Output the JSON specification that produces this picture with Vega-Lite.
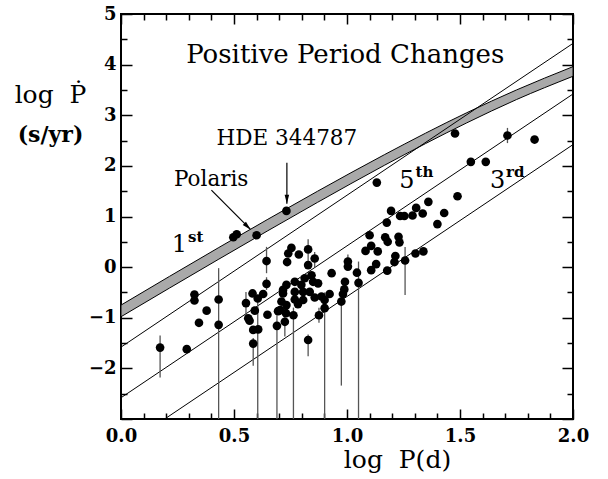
{
  "$schema": "https://vega.github.io/schema/vega-lite/v6.json",
  "width": 452,
  "height": 405,
  "autosize": {"type": "none"},
  "padding": {"left": 121, "top": 14, "right": 35, "bottom": 60},
  "background": "white",
  "config": {
    "view": {"stroke": "black", "strokeWidth": 2},
    "axis": {
      "domain": false, "grid": false, "tickColor": "black", "tickWidth": 1.5,
      "labelFont": "DejaVu Serif", "labelFontSize": 18, "labelFontWeight": "bold", "labelColor": "black",
      "labelFlush": false, "labelOverlap": false, "labelBound": false,
      "titleFont": "DejaVu Serif", "titleFontWeight": "normal", "titleColor": "black"
    },
    "text": {"font": "DejaVu Serif", "color": "black"}
  },
  "datasets": {
    "stars": [
      {"x":0.173,"y":-1.59,"lo":-2.18,"hi":-1.35},
      {"x":0.291,"y":-1.62},
      {"x":0.325,"y":-0.54},
      {"x":0.325,"y":-0.66},
      {"x":0.345,"y":-1.10},
      {"x":0.379,"y":-0.86},
      {"x":0.432,"y":-0.64,"lo":-3.2,"hi":-0.02},
      {"x":0.432,"y":-1.14},
      {"x":0.497,"y":0.59},
      {"x":0.512,"y":0.65},
      {"x":0.600,"y":0.63},
      {"x":0.732,"y":1.11},
      {"x":0.553,"y":-0.71,"lo":-0.95,"hi":-0.49},
      {"x":0.563,"y":-1.01},
      {"x":0.569,"y":-1.06},
      {"x":0.582,"y":-0.52},
      {"x":0.592,"y":-0.86},
      {"x":0.585,"y":-1.24},
      {"x":0.607,"y":-1.23},
      {"x":0.585,"y":-1.51,"lo":-1.95,"hi":-1.40},
      {"x":0.605,"y":-0.62,"lo":-3.2,"hi":-0.62},
      {"x":0.629,"y":-0.53},
      {"x":0.644,"y":-0.33,"lo":-0.45,"hi":-0.20},
      {"x":0.644,"y":0.12,"lo":-0.12,"hi":0.40},
      {"x":0.648,"y":-0.94},
      {"x":0.690,"y":-1.16,"lo":-3.2,"hi":-0.95},
      {"x":0.695,"y":-0.87},
      {"x":0.740,"y":0.27},
      {"x":0.735,"y":0.10},
      {"x":0.754,"y":0.38},
      {"x":0.787,"y":0.25},
      {"x":0.717,"y":-0.45},
      {"x":0.717,"y":-0.52},
      {"x":0.732,"y":-0.35},
      {"x":0.710,"y":-0.68},
      {"x":0.725,"y":-1.08,"lo":-1.37,"hi":-0.90},
      {"x":0.828,"y":0.35,"lo":0.10,"hi":0.55},
      {"x":0.828,"y":0.04},
      {"x":0.857,"y":0.17,"lo":0.0,"hi":0.30},
      {"x":0.843,"y":-0.16},
      {"x":0.813,"y":-0.22},
      {"x":0.769,"y":-0.29},
      {"x":0.798,"y":-0.35},
      {"x":0.850,"y":-0.29},
      {"x":0.872,"y":-0.32},
      {"x":0.769,"y":-0.49},
      {"x":0.806,"y":-0.49},
      {"x":0.835,"y":-0.49},
      {"x":0.887,"y":-0.58},
      {"x":0.923,"y":-0.53},
      {"x":0.769,"y":-0.64},
      {"x":0.806,"y":-0.65},
      {"x":0.857,"y":-0.60},
      {"x":0.901,"y":-0.65,"lo":-3.2,"hi":-0.50},
      {"x":0.732,"y":-0.75},
      {"x":0.783,"y":-0.73},
      {"x":0.901,"y":-0.81},
      {"x":0.704,"y":-0.85},
      {"x":0.730,"y":-0.91},
      {"x":0.763,"y":-0.95,"lo":-3.2,"hi":-0.80},
      {"x":0.876,"y":-0.95,"lo":-1.10,"hi":-0.80},
      {"x":0.828,"y":-1.44,"lo":-1.76,"hi":-1.33},
      {"x":0.932,"y":-0.12},
      {"x":0.975,"y":-0.68,"lo":-2.34,"hi":-0.50},
      {"x":0.982,"y":-0.53},
      {"x":0.988,"y":-0.44},
      {"x":0.991,"y":-0.29},
      {"x":1.004,"y":0.11,"lo":-0.05,"hi":0.25},
      {"x":1.004,"y":0.01},
      {"x":1.044,"y":-0.11},
      {"x":1.051,"y":-0.31,"lo":-3.2,"hi":0.11},
      {"x":1.082,"y":0.32},
      {"x":1.107,"y":0.42},
      {"x":1.100,"y":0.63},
      {"x":1.107,"y":-0.06},
      {"x":1.129,"y":0.06},
      {"x":1.136,"y":0.31},
      {"x":1.169,"y":0.59},
      {"x":1.176,"y":0.88},
      {"x":1.178,"y":-0.07},
      {"x":1.180,"y":0.50},
      {"x":1.195,"y":1.11},
      {"x":1.210,"y":0.10},
      {"x":1.214,"y":0.22},
      {"x":1.228,"y":0.60},
      {"x":1.232,"y":0.49},
      {"x":1.235,"y":1.01},
      {"x":1.254,"y":1.01},
      {"x":1.257,"y":0.13,"lo":-0.55,"hi":0.40},
      {"x":1.290,"y":1.02},
      {"x":1.303,"y":0.27},
      {"x":1.306,"y":1.17},
      {"x":1.335,"y":1.06},
      {"x":1.338,"y":0.31},
      {"x":1.360,"y":1.29},
      {"x":1.400,"y":0.85},
      {"x":1.430,"y":1.07},
      {"x":1.132,"y":1.67},
      {"x":1.489,"y":1.40},
      {"x":1.478,"y":2.64},
      {"x":1.548,"y":2.08},
      {"x":1.614,"y":2.08},
      {"x":1.710,"y":2.60,"lo":2.45,"hi":2.75},
      {"x":1.830,"y":2.52}
    ]
  },
  "resolve": {"axis": {"x": "independent", "y": "independent"}},
  "layer": [
    {
      "data": {"values": [
        {"x":0.0,"lo":-0.98,"hi":-0.75},
        {"x":0.43,"lo":0.15,"hi":0.38},
        {"x":0.87,"lo":1.28,"hi":1.50},
        {"x":1.165,"lo":2.01,"hi":2.22},
        {"x":1.53,"lo":2.85,"hi":3.05},
        {"x":1.75,"lo":3.31,"hi":3.50},
        {"x":2.0,"lo":3.77,"hi":3.96}
      ]},
      "mark": {"type": "area", "fill": "#a9a9a9", "stroke": "black", "strokeWidth": 1, "interpolate": "monotone", "clip": true},
      "encoding": {
        "x": {"field": "x", "type": "quantitative", "scale": {"domain": [0, 2], "nice": false, "zero": false},
          "axis": {"orient": "bottom", "values": [0,0.1,0.2,0.3,0.4,0.5,0.6,0.7,0.8,0.9,1,1.1,1.2,1.3,1.4,1.5,1.6,1.7,1.8,1.9,2],
            "tickSize": {"condition": {"test": "abs(datum.value*2-round(datum.value*2))<0.001", "value": -10}, "value": -6},
            "labelExpr": "abs(datum.value*2-round(datum.value*2))<0.001 ? format(datum.value,'.1f') : ''",
            "labelPadding": 18,
            "title": "log\u00a0\u00a0P(d)", "titleFontSize": 25, "titleX": 276, "titleY": 48, "titleAlign": "center", "titleBaseline": "alphabetic"}},
        "y": {"field": "lo", "type": "quantitative", "scale": {"domain": [-3, 5], "nice": false, "zero": false},
          "axis": {"orient": "left", "values": [-3,-2.5,-2,-1.5,-1,-0.5,0,0.5,1,1.5,2,2.5,3,3.5,4,4.5,5],
            "tickSize": {"condition": {"test": "datum.value == round(datum.value)", "value": -11}, "value": -6},
            "labelExpr": "datum.value == round(datum.value) && datum.value > -3 ? format(datum.value,'d') : ''",
            "labelPadding": 16,
            "title": "log\u00a0\u00a0\u1e56", "titleFontSize": 25, "titleAngle": 0, "titleX": -71, "titleY": 88, "titleAlign": "center", "titleBaseline": "alphabetic"}},
        "y2": {"field": "hi"}
      }
    },
    {
      "data": {"values": [
        {"line":"a","x":0,"y":-1.58},{"line":"a","x":2,"y":4.42},
        {"line":"b","x":0,"y":-2.58},{"line":"b","x":2,"y":3.42},
        {"line":"c","x":0,"y":-3.58},{"line":"c","x":2,"y":2.42}
      ]},
      "mark": {"type": "line", "color": "black", "strokeWidth": 1, "clip": true},
      "encoding": {
        "x": {"field": "x", "type": "quantitative", "axis": null},
        "y": {"field": "y", "type": "quantitative", "axis": null},
        "detail": {"field": "line"}
      }
    },
    {
      "data": {"name": "stars"},
      "transform": [{"filter": "isValid(datum.lo)"}],
      "mark": {"type": "rule", "color": "#555555", "strokeWidth": 1.3, "clip": true},
      "encoding": {
        "x": {"field": "x", "type": "quantitative", "axis": null},
        "y": {"field": "lo", "type": "quantitative", "axis": null},
        "y2": {"field": "hi"}
      }
    },
    {
      "data": {"name": "stars"},
      "mark": {"type": "circle", "color": "black", "size": 75, "opacity": 1},
      "encoding": {
        "x": {"field": "x", "type": "quantitative",
          "axis": {"orient": "top", "values": [0,0.1,0.2,0.3,0.4,0.5,0.6,0.7,0.8,0.9,1,1.1,1.2,1.3,1.4,1.5,1.6,1.7,1.8,1.9,2],
            "tickSize": {"condition": {"test": "abs(datum.value*2-round(datum.value*2))<0.001", "value": -10}, "value": -6},
            "labels": false, "title": null}},
        "y": {"field": "y", "type": "quantitative",
          "axis": {"orient": "right", "values": [-3,-2.5,-2,-1.5,-1,-0.5,0,0.5,1,1.5,2,2.5,3,3.5,4,4.5,5],
            "tickSize": {"condition": {"test": "datum.value == round(datum.value)", "value": -11}, "value": -6},
            "labels": false,
            "title": "(s/yr)", "titleFontSize": 22, "titleFontWeight": "bold", "titleAngle": 0, "titleX": -523, "titleY": 127, "titleAlign": "center", "titleBaseline": "alphabetic"}}
      }
    },
    {
      "data": {"values": [
        {"x":0.40,"y":1.52,"x2":0.572,"y2":0.75},
        {"x":0.734,"y":2.06,"x2":0.734,"y2":1.25}
      ]},
      "mark": {"type": "rule", "color": "black", "strokeWidth": 1.2},
      "encoding": {
        "x": {"field": "x", "type": "quantitative", "axis": null},
        "y": {"field": "y", "type": "quantitative", "axis": null},
        "x2": {"field": "x2"},
        "y2": {"field": "y2"}
      }
    },
    {
      "data": {"values": [{"x":0.734,"y":1.25}]},
      "mark": {"type": "point", "shape": "M-0.45,-1.8L0,0L0.45,-1.8Z", "size": 100, "filled": true, "color": "black", "opacity": 1},
      "encoding": {
        "x": {"field": "x", "type": "quantitative", "axis": null},
        "y": {"field": "y", "type": "quantitative", "axis": null}
      }
    },
    {
      "data": {"values": [{"x":0.574,"y":0.74}]},
      "mark": {"type": "point", "shape": "M-0.45,-1.8L0,0L0.45,-1.8Z", "size": 100, "filled": true, "color": "black", "opacity": 1, "angle": 315},
      "encoding": {
        "x": {"field": "x", "type": "quantitative", "axis": null},
        "y": {"field": "y", "type": "quantitative", "axis": null}
      }
    },
    {
      "data": {"values": [{"label":"Positive Period Changes","x":0.992,"y":4.03}]},
      "mark": {"type": "text", "fontSize": 26, "align": "center", "baseline": "alphabetic"},
      "encoding": {
        "x": {"field": "x", "type": "quantitative", "axis": null},
        "y": {"field": "y", "type": "quantitative", "axis": null},
        "text": {"field": "label"}
      }
    },
    {
      "data": {"values": [
        {"label":"Polaris","x":0.399,"y":1.60},
        {"label":"HDE 344787","x":0.734,"y":2.41}
      ]},
      "mark": {"type": "text", "fontSize": 21.5, "align": "center", "baseline": "alphabetic"},
      "encoding": {
        "x": {"field": "x", "type": "quantitative", "axis": null},
        "y": {"field": "y", "type": "quantitative", "axis": null},
        "text": {"field": "label"}
      }
    },
    {
      "data": {"values": [
        {"label":"1","x":0.258,"y":0.30},
        {"label":"5","x":1.265,"y":1.56},
        {"label":"3","x":1.667,"y":1.56}
      ]},
      "mark": {"type": "text", "fontSize": 24, "align": "center", "baseline": "alphabetic"},
      "encoding": {
        "x": {"field": "x", "type": "quantitative", "axis": null},
        "y": {"field": "y", "type": "quantitative", "axis": null},
        "text": {"field": "label"}
      }
    },
    {
      "data": {"values": [
        {"label":"st","x":0.297,"y":0.50},
        {"label":"th","x":1.303,"y":1.79},
        {"label":"rd","x":1.704,"y":1.79}
      ]},
      "mark": {"type": "text", "fontSize": 15, "fontWeight": "bold", "align": "left", "baseline": "alphabetic"},
      "encoding": {
        "x": {"field": "x", "type": "quantitative", "axis": null},
        "y": {"field": "y", "type": "quantitative", "axis": null},
        "text": {"field": "label"}
      }
    }
  ]
}
